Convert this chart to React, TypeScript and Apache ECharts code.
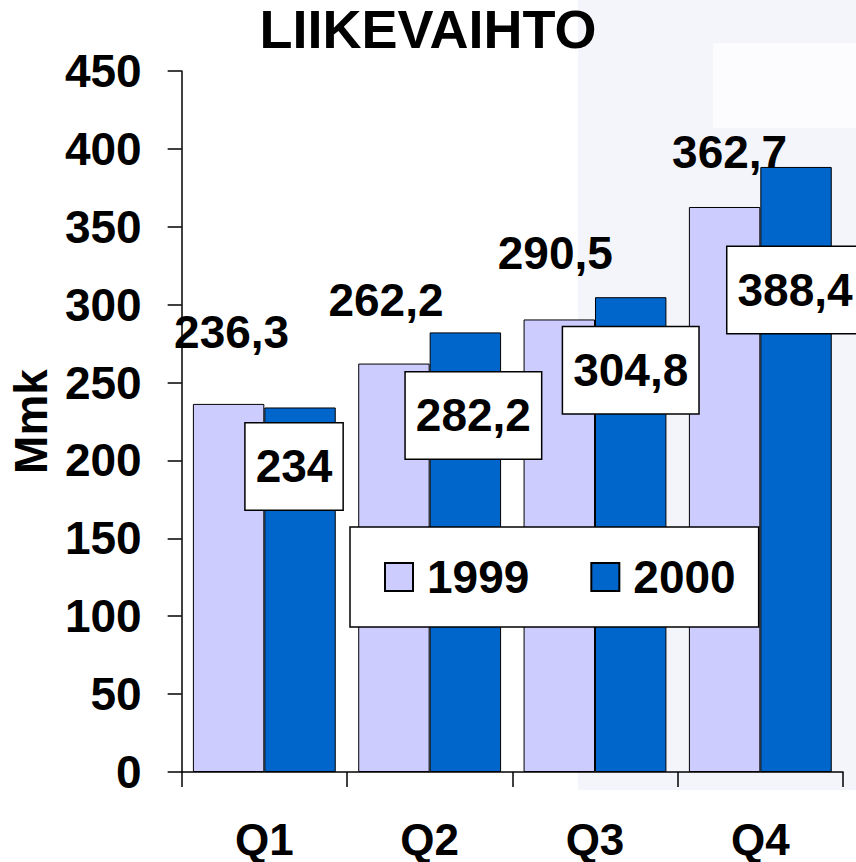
import React, { useEffect, useRef } from "react";
import * as echarts from "echarts";

const categories = ["Q1", "Q2", "Q3", "Q4"];
const seriesNames = ["1999", "2000"];
const values1999 = [236.3, 262.2, 290.5, 362.7];
const values2000 = [234, 282.2, 304.8, 388.4];
const yTicks = { min: 0, max: 450, interval: 50 };

// label placement nudges (pixels) as in the original slide
const labelOffsets1999 = [[3, -49], [-8, -41], [-4, -43], [5, -32]];
const labelOffsets2000 = [[-6, 16], [8, 40], [0, 30], [-1, 80]];

const FONT = "'Liberation Sans', Arial, sans-serif";
const fmt = (v: number) => String(v).replace(".", ",");

export default function App() {
  const ref = useRef<HTMLDivElement>(null);
  useEffect(() => {
    if (!ref.current) return;
    const chart = echarts.init(ref.current, null, { renderer: "svg" });
    chart.setOption({
      animation: false,
      backgroundColor: "#ffffff",
      textStyle: { fontFamily: FONT },
      graphic: [
        { type: "rect", z: -10, silent: true, shape: { x: 578, y: 0, width: 278, height: 790 }, style: { fill: "#F4F4FB" } },
        { type: "rect", z: -9, silent: true, shape: { x: 713, y: 43, width: 143, height: 85 }, style: { fill: "#FCFCFE" } },
      ],
      title: {
        text: "LIIKEVAIHTO",
        left: "center",
        top: -3,
        textStyle: { fontFamily: FONT, fontSize: 54, fontWeight: "bold", color: "#000", lineHeight: 54 },
      },
      legend: {
        data: seriesNames,
        orient: "horizontal",
        left: 350,
        top: 527,
        backgroundColor: "#ffffff",
        borderColor: "#000",
        borderWidth: 1.5,
        padding: [27, 23, 27, 34],
        itemWidth: 28,
        itemHeight: 28,
        itemGap: 61,
        icon: "rect",
        textStyle: { fontFamily: FONT, fontSize: 46, fontWeight: "bold", color: "#000", lineHeight: 46, padding: [0, 0, 0, 9] },
      },
      grid: { left: 177, right: 13, top: 71, bottom: 90 },
      xAxis: {
        type: "category",
        data: categories,
        axisLine: { show: true, lineStyle: { color: "#000", width: 1.5 } },
        axisTick: { show: true, length: 15, lineStyle: { color: "#000", width: 1.5 } },
        axisLabel: { fontFamily: FONT, fontSize: 44, fontWeight: "bold", color: "#000", margin: 45 },
      },
      yAxis: {
        type: "value",
        min: yTicks.min,
        max: yTicks.max,
        interval: yTicks.interval,
        name: "Mmk",
        nameLocation: "middle",
        nameGap: 125,
        nameRotate: 90,
        nameTextStyle: { fontFamily: FONT, fontSize: 46, fontWeight: "bold", color: "#000" },
        axisLine: { show: true, lineStyle: { color: "#000", width: 1.5 } },
        axisTick: { show: true, length: 14, lineStyle: { color: "#000", width: 1.5 } },
        splitLine: { show: false },
        axisLabel: { fontFamily: FONT, fontSize: 46, fontWeight: "bold", color: "#000", margin: 40 },
      },
      series: [
        {
          name: seriesNames[0],
          type: "bar",
          barWidth: "43.2%",
          barGap: "0%",
          itemStyle: { color: "#CCCCFF", borderColor: "#000", borderWidth: 1 },
          data: values1999.map((v, i) => ({ value: v, label: { offset: labelOffsets1999[i] } })),
          label: {
            show: true,
            position: "top",
            distance: 0,
            formatter: (p: any) => fmt(p.value),
            fontFamily: FONT,
            fontSize: 46,
            lineHeight: 46,
            fontWeight: "bold",
            color: "#000",
          },
        },
        {
          name: seriesNames[1],
          type: "bar",
          barWidth: "43.2%",
          itemStyle: { color: "#0066CC", borderColor: "#000", borderWidth: 1 },
          data: values2000.map((v, i) => ({ value: v, label: { offset: labelOffsets2000[i] } })),
          label: {
            show: true,
            position: "insideTop",
            distance: 0,
            formatter: (p: any) => fmt(p.value),
            fontFamily: FONT,
            fontSize: 46,
            lineHeight: 46,
            fontWeight: "bold",
            color: "#000",
            backgroundColor: "#ffffff",
            borderColor: "#000",
            borderWidth: 1.5,
            padding: [20, 10],
          },
        },
      ],
    });
    return () => chart.dispose();
  }, []);
  return (
    <div
      ref={ref}
      style={{ position: "fixed", left: 0, top: 0, width: 856, height: 862 }}
    />
  );
}
